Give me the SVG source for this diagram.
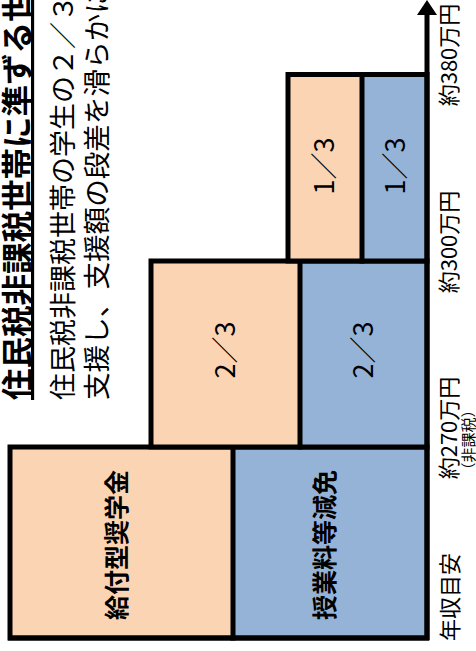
<svg xmlns="http://www.w3.org/2000/svg" width="476" height="651" viewBox="0 0 476 651">
<style>
.pe{fill:#FBD4B4}
.bl{fill:#95B3D7}
.ol{fill:none;stroke:#000;stroke-width:5;stroke-linejoin:miter;stroke-linecap:square}
text{font-family:"Noto Sans CJK JP","Noto Sans",sans-serif;fill:#000;dominant-baseline:central}
.lb{font-size:25px;font-weight:bold;text-anchor:middle}
.fr{font-size:27px;text-anchor:middle}
.ax{font-size:22px;text-anchor:middle}
.hd{font-size:27px;text-anchor:start}
</style>
<rect width="476" height="651" fill="#fff"/>
<g id="title">
<text class="hd" transform="translate(15,400) rotate(-90)" style="font-size:31.5px;font-weight:bold;text-decoration:underline">住民税非課税世帯に準ずる世</text>
<text class="hd" transform="translate(61,400) rotate(-90)">住民税非課税世帯の学生の２／３</text>
<text class="hd" transform="translate(95,400) rotate(-90)" style="font-size:27.6px">支援し、支援額の段差を滑らかに</text>
</g>
<g id="box-low">
<rect class="pe" x="10" y="447" width="223" height="191"/>
<rect class="bl" x="233" y="447" width="194" height="191"/>
<rect class="ol" x="10" y="447" width="417" height="191"/>
<line class="ol" x1="233" y1="447" x2="233" y2="638"/>
<text class="lb" transform="translate(115,545) rotate(-90)">給付型奨学金</text>
<text class="lb" transform="translate(323,545) rotate(-90)">授業料等減免</text>
</g>
<g id="box-mid">
<rect class="pe" x="151" y="261" width="149" height="186"/>
<rect class="bl" x="300" y="261" width="127" height="186"/>
<rect class="ol" x="151" y="261" width="276" height="186"/>
<line class="ol" x1="300" y1="261" x2="300" y2="447"/>
<text class="fr" transform="translate(223,350) rotate(-90)">2／3</text>
<text class="fr" transform="translate(361,350) rotate(-90)">2／3</text>
</g>
<g id="box-high">
<rect class="pe" x="288" y="74.5" width="74" height="186.5"/>
<rect class="bl" x="362" y="74.5" width="65" height="186.5"/>
<rect class="ol" x="288" y="74.5" width="139" height="186.5"/>
<line class="ol" x1="362" y1="74.5" x2="362" y2="261"/>
<text class="fr" transform="translate(322,166) rotate(-90)">1／3</text>
<text class="fr" transform="translate(393,166) rotate(-90)">1／3</text>
</g>
<g id="connectors">
<line x1="427" y1="640" x2="427" y2="12" stroke="#000" stroke-width="5"/>
<line x1="8" y1="638" x2="429" y2="638" stroke="#000" stroke-width="5"/>
<polygon points="417,15 437,15 427,0" fill="#000"/>
</g>
<g id="axis-labels">
<text class="ax" transform="translate(447,55) rotate(-90)">約380万円</text>
<text class="ax" transform="translate(447,242) rotate(-90)">約300万円</text>
<text class="ax" transform="translate(447,428) rotate(-90)">約270万円</text>
<text class="ax" transform="translate(467,440) rotate(-90)" style="font-size:15px">（非課税）</text>
<text class="ax" transform="translate(448,597) rotate(-90)">年収目安</text>
</g>
</svg>
